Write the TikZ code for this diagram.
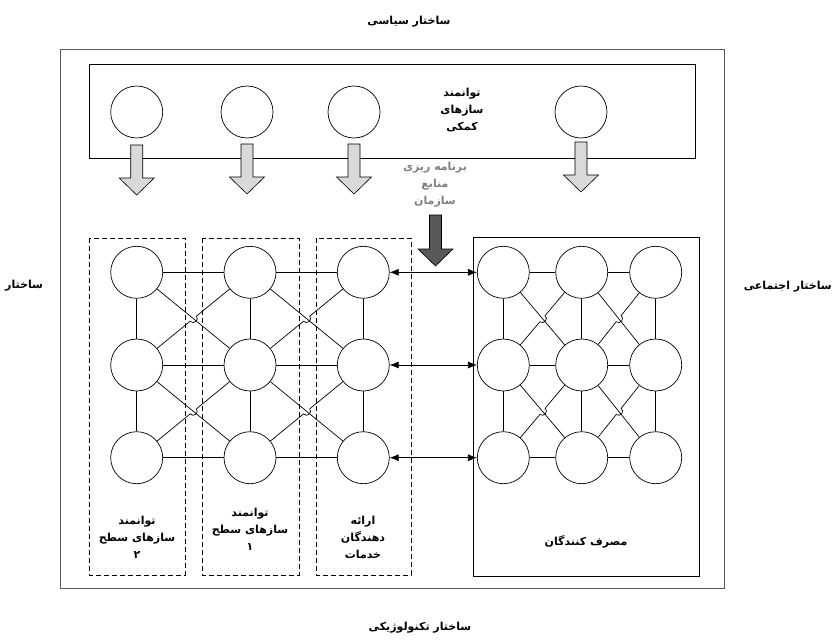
\documentclass[tikz,border=0pt]{standalone}
\usepackage{fontspec}
\usetikzlibrary{calc,arrows.meta}
\TeXXeTstate=1
\newfontfamily\fafont[Script=Arabic]{DejaVu Sans}
\newcommand\fa[1]{\beginR#1\endR}
\newcommand\fatarrow[4]{%
  \filldraw[fill=#4,draw=black,line width=0.6pt]
    (#1-6,#2) -- (#1+6,#2) -- (#1+6,#3-17) -- (#1+17.5,#3-17) -- (#1,#3)
    -- (#1-17.5,#3-17) -- (#1-6,#3-17) -- cycle;}
\newcommand\jumpline[3]{%
  \path ($(#3)!4pt!(#1)$) coordinate (ja) ($(#3)!4pt!(#2)$) coordinate (jb);
  \draw[edge] (#1) -- (ja) .. controls ($(ja)!5pt!-90:(#3)$) and ($(jb)!5pt!90:(#3)$) .. (jb) -- (#2);}
\begin{document}
\begin{tikzpicture}[x=1pt,y=-1pt,
  cnode/.style={circle,draw,line width=0.7pt,minimum size=52pt,inner sep=0pt},
  edge/.style={line width=0.7pt},
  lbl/.style={font=\fafont\bfseries\fontsize{11}{17}\selectfont,align=center,inner sep=1pt},
  dbox/.style={draw,line width=0.7pt,dash pattern=on 5pt off 3pt},
  dtip/.style={edge,{Latex[length=9pt,width=7pt]}-{Latex[length=9pt,width=7pt]}}]
\path[use as bounding box,fill=white] (0,0) rectangle (834,639);
% frames
\draw[line width=1pt,draw=black!65] (60,50) rectangle (724,588);
\draw[line width=0.8pt] (89,64) rectangle (695,158);
\draw[dbox] (89,238) rectangle (185,575);
\draw[dbox] (202,238) rectangle (299,575);
\draw[dbox] (316,238) rectangle (411,575);
\draw[line width=0.8pt] (473,237) rectangle (699,576);
% top circles
\node[cnode] (T1) at (136.7,112) {};
\node[cnode] (T2) at (247,112) {};
\node[cnode] (T3) at (354,112) {};
\node[cnode] (T4) at (581,112) {};
% block arrows
\fatarrow{136.7}{145}{195}{black!15}
\fatarrow{247}{144}{194}{black!15}
\fatarrow{354}{144}{194}{black!15}
\fatarrow{581}{142}{192}{black!15}
\fatarrow{435.5}{215}{266}{black!65}
% grids
\foreach \r/\y in {1/272.3,2/365,3/457.7}{
  \foreach \c/\x in {1/136.7,2/250,3/363.3}{\node[cnode] (L\r\c) at (\x,\y) {};}
  \foreach \c/\x in {1/503.3,2/581.7,3/655.7}{\node[cnode] (R\r\c) at (\x,\y) {};}
}
\foreach \g in {L,R}{
  \foreach \r in {1,2,3}{
    \draw[edge] (\g\r1) -- (\g\r2);
    \draw[edge] (\g\r2) -- (\g\r3);
  }
  \foreach \c in {1,2,3}{
    \draw[edge] (\g1\c) -- (\g2\c);
    \draw[edge] (\g2\c) -- (\g3\c);
  }
  \foreach \r/\rr in {1/2,2/3}{
    \foreach \c/\cc in {1/2,2/3}{
      \draw[edge] (\g\r\c) -- (\g\rr\cc);
      \coordinate (X) at ($(\g\r\c)!0.5!(\g\rr\cc)$);
      \jumpline{\g\rr\c}{\g\r\cc}{X}
    }
  }
}
\foreach \r in {1,2,3}{\draw[dtip] (L\r3) -- (R\r1);}
% labels
\node[lbl] (ttop) at (409,22) {\fa{ساختار سیاسی}};
\node[lbl,anchor=west] (tleft) at (4,286) {\fa{ساختار}};
\node[lbl,anchor=east] (tright) at (833,287) {\fa{ساختار اجتماعی}};
\node[lbl] (tbot) at (420,628) {\fa{ساختار تکنولوژیکی}};
\node[lbl] (tk) at (462,110) {\fa{توانمند}\\\fa{سازهای}\\\fa{کمکی}};
\node[lbl,text=black!50] (brn) at (435,185) {\fa{برنامه ریزی}\\\fa{منابع}\\\fa{سازمان}};
\node[lbl] (b1) at (137,537) {\fa{توانمند}\\\fa{سازهای سطح}\\\fa{۲}};
\node[lbl] (b2) at (250,529) {\fa{توانمند}\\\fa{سازهای سطح}\\\fa{۱}};
\node[lbl] (b3) at (363,537) {\fa{ارائه}\\\fa{دهندگان}\\\fa{خدمات}};
\node[lbl] (b4) at (586,542) {\fa{مصرف کنندگان}};
\end{tikzpicture}
\end{document}
